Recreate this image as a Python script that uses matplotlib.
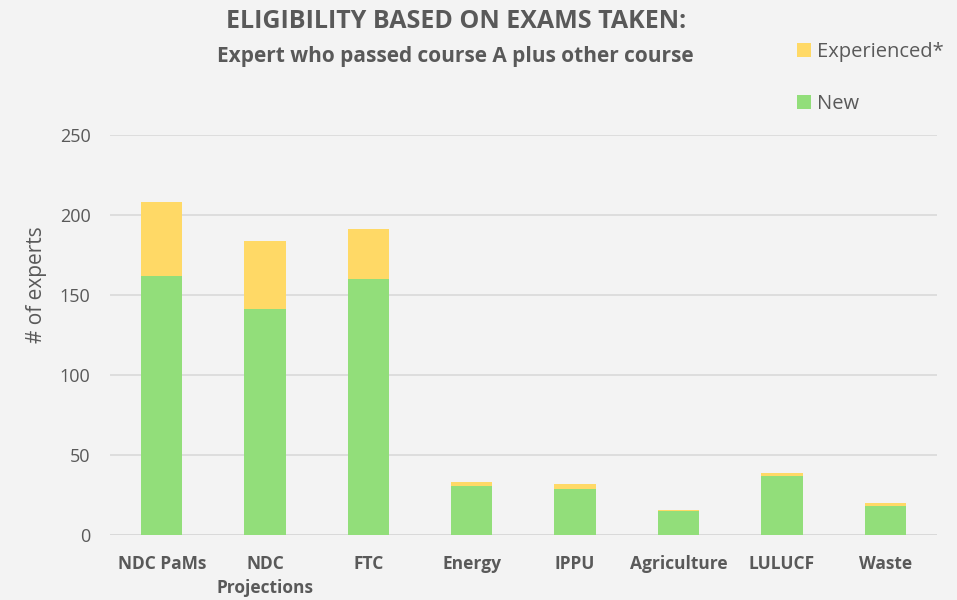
import matplotlib.pyplot as plt
import numpy as np

plt.rcParams['font.family'] = ['Open Sans', 'DejaVu Sans']

# data
categories = ["NDC PaMs", "NDC\nProjections", "FTC", "Energy", "IPPU", "Agriculture", "LULUCF", "Waste"]
new_experts = [162, 141, 160, 31, 29, 15, 37, 18]
experienced = [46, 43, 31, 2, 3, 1, 2, 2]
y_ticks = [0, 50, 100, 150, 200, 250]

GREEN = "#92de7a"
YELLOW = "#ffd966"
TEXT = "#595959"
BG = "#f3f3f3"

fig = plt.figure(figsize=(9.57, 6), dpi=100, facecolor=BG)
ax = fig.add_axes([0.115, 0.108, 0.864, 0.667], facecolor=BG)

x = np.arange(len(categories))
ax.bar(x, new_experts, width=0.4, color=GREEN, label="New", zorder=3)
ax.bar(x, experienced, width=0.4, bottom=new_experts, color=YELLOW,
       label="Experienced*", zorder=3)

ax.set_xlim(-0.5, len(categories) - 0.5)
ax.set_ylim(0, 250)
ax.set_yticks(y_ticks)
ax.yaxis.grid(True, color="#d9d9d9", linewidth=1.2, zorder=0)
ax.tick_params(axis="y", length=0, colors=TEXT, labelsize=13, pad=14)
ax.tick_params(axis="x", length=0, colors=TEXT, pad=14)
ax.set_xticks(x)
ax.set_xticklabels(categories, fontsize=12.5, fontweight="bold", color=TEXT,
                   va="top", linespacing=1.45)
for s in ax.spines.values():
    s.set_visible(False)
ax.axhline(0, color="#d9d9d9", linewidth=1.2, zorder=2)

ax.set_ylabel("# of experts", fontsize=15, color=TEXT)
ax.yaxis.set_label_coords(-0.076, 0.625)

fig.text(0.477, 0.965, "ELIGIBILITY BASED ON EXAMS TAKEN:", ha="center", va="center",
         fontsize=18, fontweight="bold", color=TEXT)
fig.text(0.476, 0.906, "Expert who passed course A plus other course", ha="center",
         va="center", fontsize=15, fontweight="bold", color=TEXT)

handles, labels = ax.get_legend_handles_labels()
leg = fig.legend(handles[::-1], labels[::-1], loc="upper left",
                 bbox_to_anchor=(0.814, 0.96), frameon=False,
                 fontsize=14.5, labelcolor=TEXT, handlelength=0.7,
                 handleheight=0.7, handletextpad=0.3, labelspacing=1.6)

fig.savefig("out.png", dpi=100, facecolor=BG)
